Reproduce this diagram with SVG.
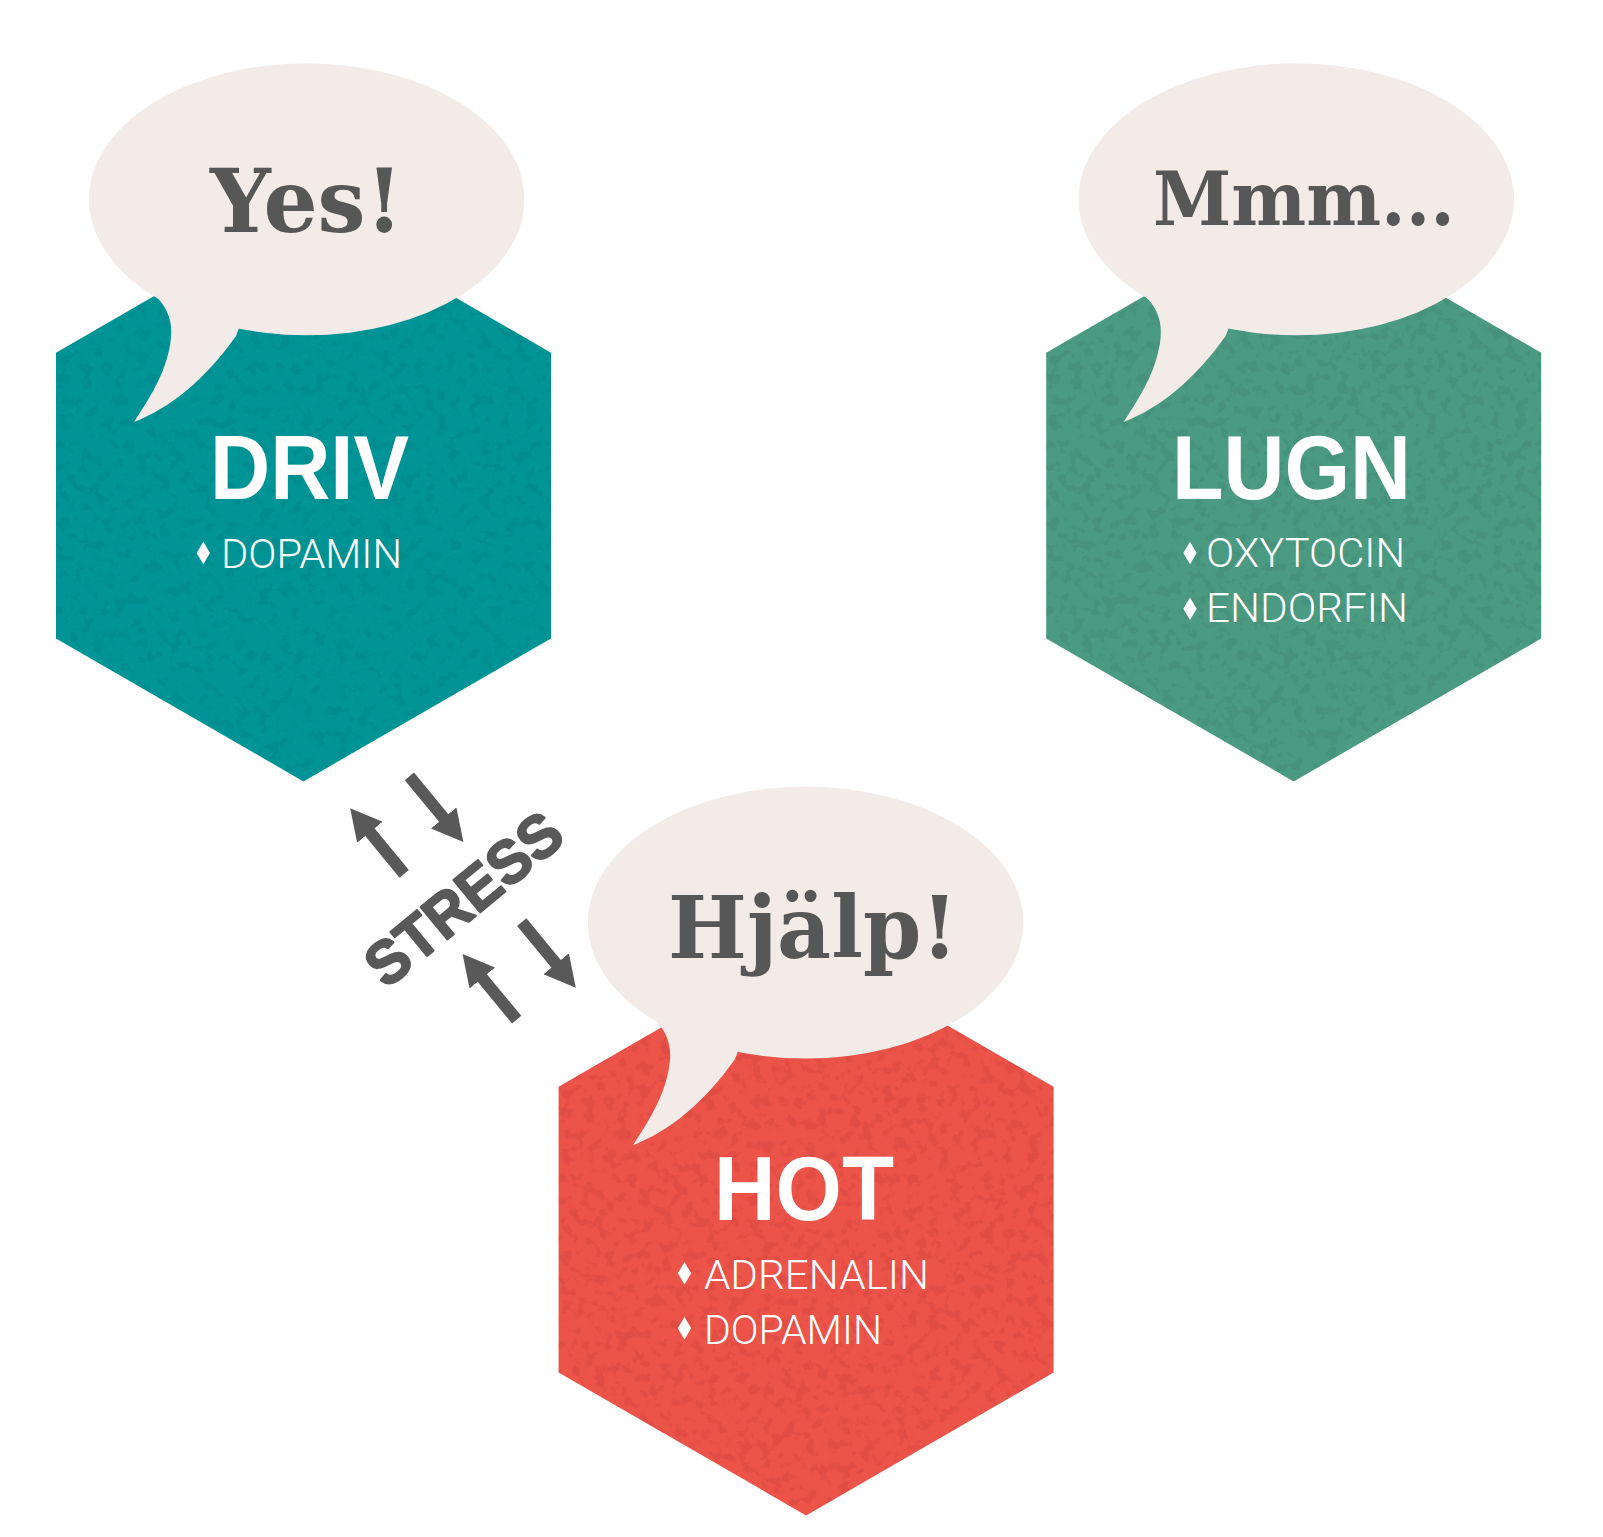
<svg xmlns="http://www.w3.org/2000/svg" xmlns:xlink="http://www.w3.org/1999/xlink" width="1603" height="1537" viewBox="0 0 1603 1537">
<style>
.title{font-family:"Liberation Sans",Arial,sans-serif;font-weight:bold;font-size:90px;fill:#ffffff}
.item{font-family:Roboto,"Liberation Sans",sans-serif;font-weight:300;font-size:40px;fill:#ffffff}
.say{font-family:"DejaVu Serif","Liberation Serif",serif;font-weight:bold;fill:#575757}
.bub{fill:#f3ebe8}
.dia{fill:#ffffff}
.stress{font-family:"Liberation Sans",Arial,sans-serif;font-weight:bold;font-size:61px;fill:#595959;stroke:#595959;stroke-width:2;stroke-linejoin:round}
.arr{stroke:#595959;stroke-width:12;fill:none}
</style>
<defs>
<filter id="speckle" x="0" y="0" width="100%" height="100%">
<feTurbulence type="fractalNoise" baseFrequency="0.09" numOctaves="3" seed="7" result="n"/>
<feColorMatrix in="n" type="matrix" values="0 0 0 0 0  0 0 0 0 0  0 0 0 0 0  9 0 0 0 -4.8" result="spots"/>
<feFlood flood-color="#000000" flood-opacity="0.1" result="f"/>
<feComposite in="f" in2="spots" operator="in" result="ds"/>
<feComposite in="ds" in2="SourceGraphic" operator="in" result="dsc"/>
<feMerge><feMergeNode in="SourceGraphic"/><feMergeNode in="dsc"/></feMerge>
</filter>
<polygon id="hex" points="0,-285.8 247.5,-142.9 247.5,142.9 0,285.8 -247.5,142.9 -247.5,-142.9"/>
<g id="bubble">
<ellipse class="bub" cx="0" cy="0" rx="217.7" ry="136"/>
<path class="bub" d="M -158.7,90.7 C -141.7,102.7 -133.7,118.7 -135.7,138.7 C -138.7,168.7 -154.7,195.7 -172.7,222.7 C -136.7,208.7 -101.7,180.7 -70.7,136.7 L -56.7,100.7 Z"/>
</g>
<path id="dmd" d="M 0,-11.3 L 6.7,0 L 0,11.3 L -6.7,0 Z"/>
<marker id="head" viewBox="0 0 31 33" refX="1" refY="16.5" markerWidth="31" markerHeight="33" markerUnits="userSpaceOnUse" orient="auto">
<path d="M0,0 L31,16.5 L0,33 Z" fill="#595959"/>
</marker>
</defs>
<rect width="1603" height="1537" fill="#ffffff"/>

<g id="node-driv">
<use xlink:href="#hex" href="#hex" transform="translate(303.5 495.6)" fill="#069496" filter="url(#speckle)"/>
<use xlink:href="#bubble" href="#bubble" transform="translate(306.7 199.3)"/>
<text class="say" x="210" y="232" font-size="88" textLength="193" lengthAdjust="spacingAndGlyphs">Yes!</text>
<text class="title" x="210" y="499" textLength="199" lengthAdjust="spacingAndGlyphs">DRIV</text>
<use xlink:href="#dmd" href="#dmd" class="dia" transform="translate(203.3 553)"/>
<text class="item" x="221" y="568" textLength="181" lengthAdjust="spacingAndGlyphs">DOPAMIN</text>
</g>

<g id="node-lugn">
<use xlink:href="#hex" href="#hex" transform="translate(1293.7 495.6)" fill="#4b9a82" filter="url(#speckle)"/>
<use xlink:href="#bubble" href="#bubble" transform="translate(1296.3 199.3)"/>
<text class="say" x="1153" y="225" font-size="74" textLength="302" lengthAdjust="spacingAndGlyphs">Mmm...</text>
<text class="title" x="1172" y="499" textLength="239" lengthAdjust="spacingAndGlyphs">LUGN</text>
<use xlink:href="#dmd" href="#dmd" class="dia" transform="translate(1190 553)"/>
<text class="item" x="1206" y="567" textLength="199" lengthAdjust="spacingAndGlyphs">OXYTOCIN</text>
<use xlink:href="#dmd" href="#dmd" class="dia" transform="translate(1190 608.7)"/>
<text class="item" x="1206" y="622" textLength="202" lengthAdjust="spacingAndGlyphs">ENDORFIN</text>
</g>

<g id="node-hot">
<use xlink:href="#hex" href="#hex" transform="translate(806.1 1229.6)" fill="#ec5249" filter="url(#speckle)"/>
<use xlink:href="#bubble" href="#bubble" transform="translate(805.6 922.6)"/>
<text class="say" x="668" y="958" font-size="86" textLength="290" lengthAdjust="spacingAndGlyphs">Hjälp!</text>
<text class="title" x="714" y="1219.6" textLength="180" lengthAdjust="spacingAndGlyphs">HOT</text>
<use xlink:href="#dmd" href="#dmd" class="dia" transform="translate(684.5 1273.3)"/>
<text class="item" x="704" y="1288.5" textLength="225" lengthAdjust="spacingAndGlyphs">ADRENALIN</text>
<use xlink:href="#dmd" href="#dmd" class="dia" transform="translate(684.5 1328.3)"/>
<text class="item" x="704" y="1343.5" textLength="178" lengthAdjust="spacingAndGlyphs">DOPAMIN</text>
</g>

<g id="connectors" transform="translate(463 898) rotate(-39.5)">
<line class="arr" x1="-30" y1="-56" x2="-30" y2="-111" marker-end="url(#head)"/>
<line class="arr" x1="36" y1="-128" x2="36" y2="-73" marker-end="url(#head)"/>
<text class="stress" x="0" y="22" text-anchor="middle" textLength="235" lengthAdjust="spacingAndGlyphs">STRESS</text>
<line class="arr" x1="-36" y1="128" x2="-36" y2="73" marker-end="url(#head)"/>
<line class="arr" x1="30" y1="56" x2="30" y2="111" marker-end="url(#head)"/>
</g>
</svg>
